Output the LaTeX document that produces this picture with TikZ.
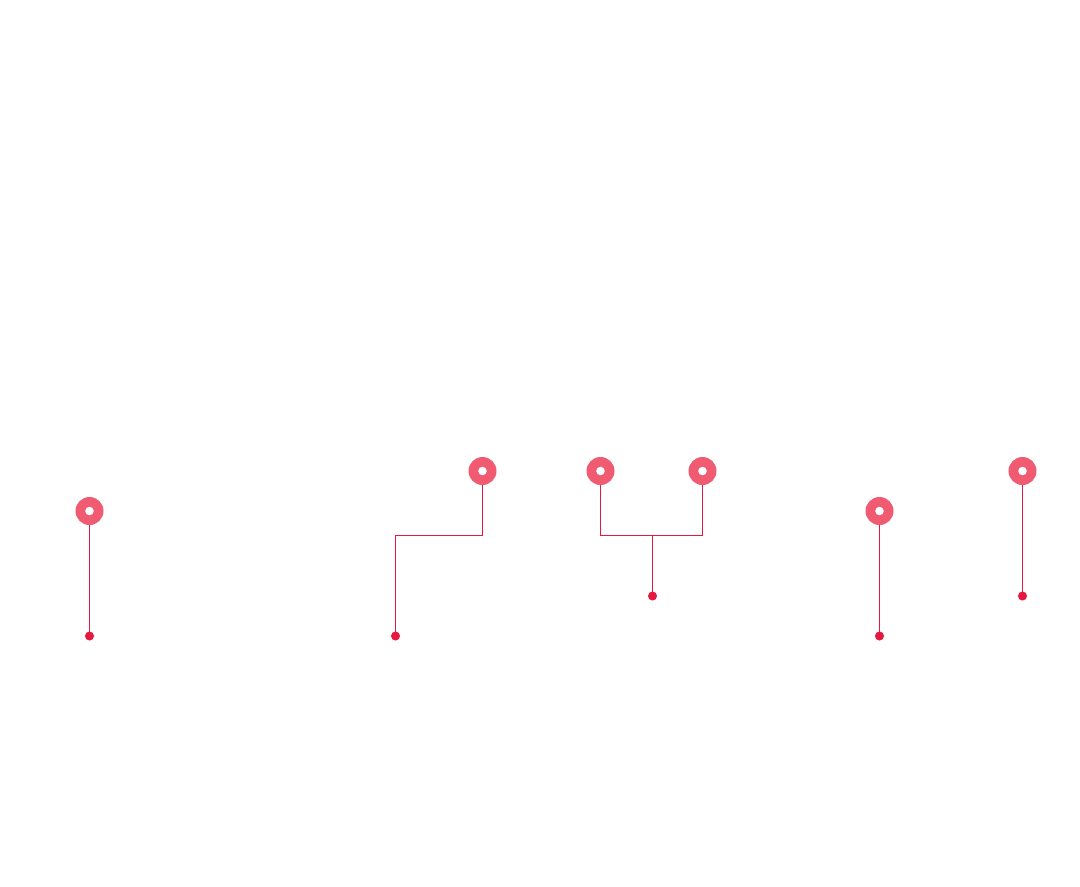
\documentclass[tikz,border=0pt]{standalone}
\begin{document}
\begin{tikzpicture}[x=0.75pt,y=-0.75pt,
  pin/.style={circle,fill=pinkc,draw=none,minimum size=21pt,inner sep=0pt,
    path picture={\fill[white] (path picture bounding box.center) circle (3.2pt);}},
  enddot/.style={circle,fill=linec,inner sep=0pt,minimum size=6.8pt},
  conn/.style={draw=linec,line width=0.8pt}]
\definecolor{pinkc}{HTML}{F05B72}
\definecolor{linec}{HTML}{E5193F}
\useasboundingbox[fill=white] (0,0) rectangle (1080,886);
% coordinates
\coordinate (pa) at (89.5,511);
\coordinate (pb) at (482.5,471);
\coordinate (pc) at (600.5,471);
\coordinate (pd) at (702.5,471);
\coordinate (pe) at (879.5,511);
\coordinate (pf) at (1022.5,471);
\node[enddot] (da) at (89.5,636) {};
\node[enddot] (db) at (395.5,636) {};
\node[enddot] (dc) at (652.5,596) {};
\node[enddot] (de) at (879.5,636) {};
\node[enddot] (df) at (1022.5,596) {};
\coordinate (jb1) at (482.5,535.5);
\coordinate (jb2) at (395.5,535.5);
\coordinate (jc) at (600.5,535.5);
\coordinate (jd) at (702.5,535.5);
\coordinate (jm) at (652.5,535.5);
% connectors
\draw[conn] (pa) -- (da.center);
\draw[conn] (pb) -- (jb1) -- (jb2) -- (db.center);
\draw[conn] (pc) -- (jc) -- (jd) -- (pd);
\draw[conn] (jm) -- (dc.center);
\draw[conn] (pe) -- (de.center);
\draw[conn] (pf) -- (df.center);
% markers
\node[pin] (ma) at (pa) {};
\node[pin] (mb) at (pb) {};
\node[pin] (mc) at (pc) {};
\node[pin] (md) at (pd) {};
\node[pin] (me) at (pe) {};
\node[pin] (mf) at (pf) {};
\end{tikzpicture}
\end{document}
